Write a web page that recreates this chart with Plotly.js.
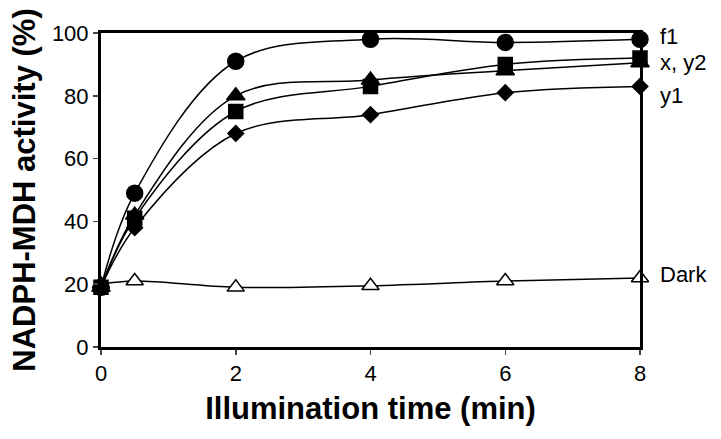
<!DOCTYPE html>
<html>
<head>
<meta charset="utf-8">
<script src="https://cdn.plot.ly/plotly-3.0.1.min.js"></script>
<style>html,body{margin:0;padding:0;background:#fff;}#chart{width:721px;height:439px;}</style>
</head>
<body>
<div id="chart"></div>
<script>
const times = [0, 0.5, 2, 4, 6, 8];
const f1 = [19, 49, 91, 98, 97, 98];
const xSeries = [19, 42, 80, 85, 88, 90.5];
const y2 = [19, 41, 75, 83, 90, 92];
const y1 = [19, 38, 68, 74, 81, 83];
const dark = [20, 21, 19, 19.5, 21, 22];

const labelNames = ["f1", "x, y2", "y1", "Dark"];
const labelY = [99, 90.5, 80, 23];

const FONT = "Liberation Sans, Arial, sans-serif";
const lineStyle = {color: "#000", width: 1.5, shape: "spline", smoothing: 1};

function tr(y, symbol, size, fill) {
  return {
    x: times, y: y, type: "scatter", mode: "lines+markers",
    line: lineStyle, cliponaxis: false, showlegend: false,
    marker: {symbol: symbol, size: size, color: fill, line: {color: "#000", width: 1.5}}
  };
}

const data = [
  tr(dark, "triangle-up", 15, "#fff"),
  tr(y1, "diamond", 12, "#000"),
  tr(xSeries, "triangle-up", 16, "#000"),
  tr(y2, "square", 14, "#000"),
  tr(f1, "circle", 16, "#000")
];

const annotations = labelNames.map((t, i) => ({
  text: t, xref: "paper", x: 1, xanchor: "left", xshift: 18,
  yref: "y", y: labelY[i], yanchor: "middle", showarrow: false,
  font: {family: FONT, size: 22, color: "#000"}
}));

const layout = {
  width: 721, height: 439,
  margin: {l: 101, r: 81, t: 33, b: 92},
  paper_bgcolor: "#fff", plot_bgcolor: "#fff",
  font: {family: FONT, color: "#000"},
  xaxis: {
    range: [0, 8], tickvals: [0, 2, 4, 6, 8], ticks: "outside", ticklen: 5, tickwidth: 1.5,
    showline: true, linewidth: 3, linecolor: "#000", mirror: true, showgrid: false, zeroline: false,
    tickfont: {family: FONT, size: 22, color: "#000"},
    title: {text: "<b>Illumination time (min)</b>", font: {family: FONT, size: 31, color: "#000"}, standoff: 12}
  },
  yaxis: {
    range: [0, 100], tickvals: [0, 20, 40, 60, 80, 100], ticks: "outside", ticklen: 5, tickwidth: 1.5,
    showline: true, linewidth: 3, linecolor: "#000", mirror: true, showgrid: false, zeroline: false,
    tickfont: {family: FONT, size: 22, color: "#000"},
    title: {text: "<b>NADPH-MDH activity (%)</b>", font: {family: FONT, size: 31, color: "#000"}, standoff: 8}
  },
  annotations: annotations
};

Plotly.newPlot("chart", data, layout, {displayModeBar: false, staticPlot: true});
</script>
</body>
</html>
